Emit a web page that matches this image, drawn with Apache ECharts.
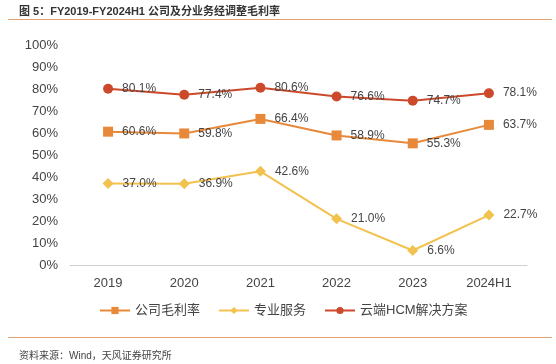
<!DOCTYPE html>
<html><head><meta charset="utf-8">
<script src="https://cdn.jsdelivr.net/npm/echarts@6/dist/echarts.min.js"></script>
<style>html,body{margin:0;padding:0;background:#fff;}#c{width:556px;height:364px;}</style>
</head><body><div id="c"></div>
<script>
const categories = ['2019','2020','2021','2022','2023','2024H1'];
const companyGM = [60.6, 59.8, 66.4, 58.9, 55.3, 63.7];
const proService = [37.0, 36.9, 42.6, 21.0, 6.6, 22.7];
const cloudHCM = [80.1, 77.4, 80.6, 76.6, 74.7, 78.1];
const seriesNames = ['公司毛利率','专业服务','云端HCM解决方案'];
const yTicks = [0,10,20,30,40,50,60,70,80,90,100];

const font = '"Liberation Sans", "Noto Sans CJK SC", sans-serif';
const chart = echarts.init(document.getElementById('c'), null, {renderer:'canvas'});
function mk(name, data, color, symbol, size){
  return {name, type:'line', data, symbol, symbolSize:size,
    lineStyle:{color, width:2}, itemStyle:{color},
    label:{show:true, position:'right', distance:9, color:'#444', fontSize:12, fontFamily:font,
      formatter:p=>p.value.toFixed(1)+'%'}};
}
chart.setOption({
  animation:false,
  title:[{text:'图 5：FY2019-FY2024H1 公司及分业务经调整毛利率', left:14, top:1,
    textStyle:{fontSize:11, fontWeight:'bold', color:'#333', fontFamily:font}},
    {text:'资料来源：Wind，天风证券研究所', left:14, top:346,
    textStyle:{fontSize:10, fontWeight:'normal', color:'#444', fontFamily:font}}],
  graphic:[
    {type:'line', shape:{x1:8,y1:19.5,x2:552,y2:19.5}, style:{stroke:'#E0A070', lineWidth:1.2}},
    {type:'line', shape:{x1:8,y1:337.5,x2:552,y2:337.5}, style:{stroke:'#E0A070', lineWidth:1.2}}
  ],
  grid:{left:70, right:29, top:45, bottom:99, containLabel:false},
  legend:{bottom:42, left:94, itemGap:18, itemWidth:30, itemHeight:9,
    textStyle:{fontSize:13, color:'#444', fontFamily:font},
    data:seriesNames},
  xAxis:{type:'category', data:categories, boundaryGap:true,
    axisLine:{lineStyle:{color:'#D0D0D0'}}, axisTick:{show:false},
    axisLabel:{color:'#444', fontSize:13, margin:12, fontFamily:font}},
  yAxis:{type:'value', min:0, max:100, interval:10, splitLine:{show:false},
    axisLine:{show:false}, axisTick:{show:false},
    axisLabel:{color:'#444', fontSize:13, margin:12, fontFamily:font, formatter:v=>v+'%'}},
  series:[
    mk(seriesNames[0], companyGM, '#E8893A', 'rect', 10),
    mk(seriesNames[1], proService, '#F2C24F', 'diamond', 11),
    mk(seriesNames[2], cloudHCM, '#CC4A2B', 'circle', 10)
  ]
});
</script></body></html>
